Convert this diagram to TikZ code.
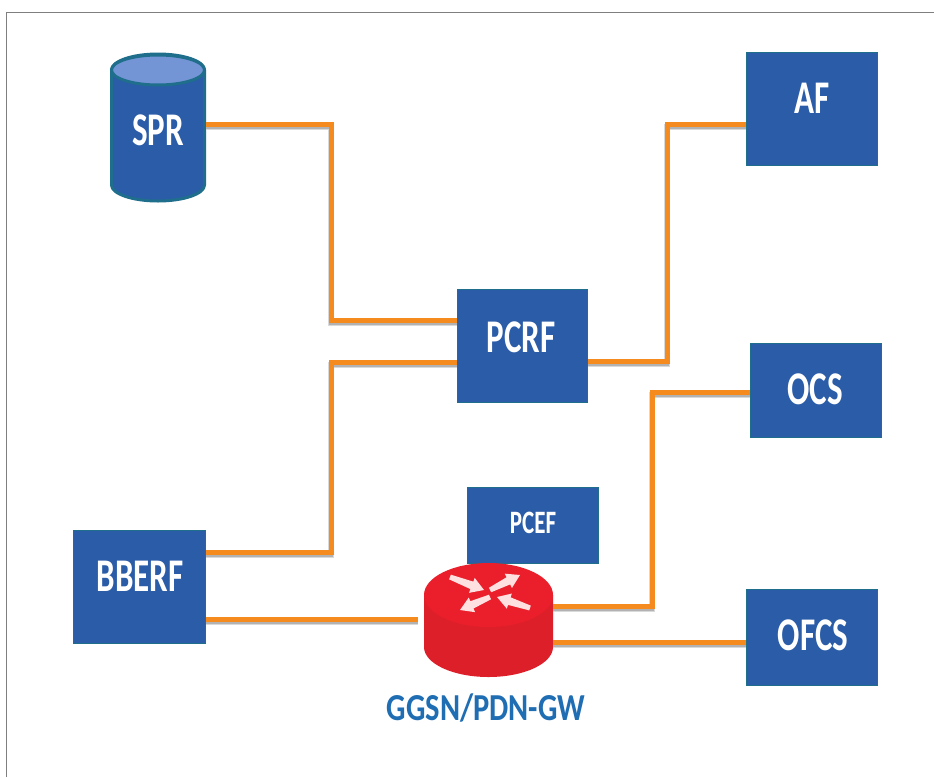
\documentclass[tikz,border=0pt]{standalone}
\usepackage{fontspec}
\setmainfont{Carlito}
\usetikzlibrary{calc}
\definecolor{boxblue}{HTML}{2A5CA8}
\definecolor{boxedge}{HTML}{1F6E8C}
\definecolor{wire}{HTML}{F58A1F}
\definecolor{framegray}{HTML}{7F7F7F}
\definecolor{capblue}{HTML}{7395D6}
\definecolor{routertop}{HTML}{EA1F2B}
\definecolor{routerside}{HTML}{DD1F2A}
\definecolor{labelblue}{HTML}{1F6DB2}
\tikzset{
  x=1pt,y=-1pt,
  bluebox/.style={draw=boxedge,line width=1.5pt,fill=boxblue,inner sep=0pt,text=white,font=\bfseries},
  wirepath/.style={draw=wire,line width=5pt,
    preaction={draw=black!15,line width=6pt,transform canvas={yshift=-3pt}},
    preaction={draw=black!30,line width=4pt,transform canvas={yshift=-2.5pt}}},
  rarrow/.style={draw=none,fill=red!12!white},
}
\newcommand{\lbl}[2]{\scalebox{1}[1.42]{\fontsize{#1}{#1}\selectfont\bfseries #2}}
\newcommand{\rarr}[4]{%
  \path let \p1=($(#3,#4)-(#1,#2)$), \n1={atan2(\y1,\x1)}, \n2={veclen(\x1,\y1)} in
    [rarrow,shift={(#1,#2)},rotate=\n1]
    (0,-2.5) -- (\n2-13,-4) -- (\n2-13,-8) -- (\n2,0) -- (\n2-13,8) -- (\n2-13,4) -- (0,2.5) -- cycle;}
\begin{document}
\begin{tikzpicture}
\useasboundingbox (0,0) rectangle (934,777);
\fill[white] (0,0) rectangle (934,777);
\draw[framegray,line width=1.5pt] (6.5,777) -- (6.5,12.5) -- (934,12.5);

% boxes
\node[bluebox,minimum width=131,minimum height=113] (af) at (812,109) {};
\node[bluebox,minimum width=130,minimum height=113] (pcrf) at (522.5,346) {};
\node[bluebox,minimum width=131,minimum height=94] (ocs) at (816,390.5) {};
\node[bluebox,minimum width=131,minimum height=76] (pcef) at (533,525.5) {};
\node[bluebox,minimum width=132,minimum height=113] (bberf) at (139.5,587) {};
\node[bluebox,minimum width=131,minimum height=96] (ofcs) at (812,637.5) {};
\node[inner sep=0pt,text=white] (aft) at (812,98) {\lbl{33}{AF}};
\node[inner sep=0pt,text=white] (pcrft) at (521,337) {\lbl{33}{PCRF}};
\node[inner sep=0pt,text=white] (ocst) at (815,389) {\lbl{33}{OCS}};
\node[inner sep=0pt,text=white] (pceft) at (533,523) {\lbl{23}{PCEF}};
\node[inner sep=0pt,text=white] (bberft) at (140,576) {\lbl{33}{BBERF}};
\node[inner sep=0pt,text=white] (ofcst) at (813,635) {\lbl{33}{OFCS}};

% SPR cylinder
\draw[boxedge,line width=3pt,fill=boxblue]
  (111.5,70) -- (111.5,185) arc[start angle=180,end angle=0,x radius=46.5,y radius=16]
  -- (204.5,70) arc[start angle=0,end angle=-180,x radius=46.5,y radius=16];
\draw[boxedge,line width=3pt,fill=capblue] (158,70) ellipse[x radius=46.5,y radius=15];
\node[inner sep=0pt,text=white] (spr) at (158,130) {\lbl{33}{SPR}};
\coordinate (sprport) at (206,124);

% router
\fill[routerside] (424,595) -- (424,647) arc[start angle=180,end angle=0,x radius=64.5,y radius=30]
  -- (553,595) -- cycle;
\fill[routertop] (488.5,595) ellipse[x radius=64.5,y radius=32];
\rarr{450}{577}{484}{590}
\rarr{490}{590}{520}{575}
\rarr{490}{597}{460}{610}
\rarr{530}{608}{497}{597}
\coordinate (rleft) at (418,619);
\coordinate (rup) at (553,606);
\coordinate (rdown) at (553,642);
\node[inner sep=0pt,text=labelblue] (gw) at (486,708) {\scalebox{1}[1.25]{\fontsize{30.5}{30.5}\selectfont\bfseries GGSN/PDN-GW}};

% connectors
\path[wirepath] (sprport) -- (331,124) -- (331,320) -- ([yshift=26]pcrf.west);
\path[wirepath] ([yshift=-15]pcrf.east) -- (667,361) -- (667,124) -- ([yshift=-15]af.west);
\path[wirepath] ([yshift=35]bberf.east) -- (331,552) -- (331,362) -- ([yshift=-16]pcrf.west);
\path[wirepath] ([yshift=-1.5]ocs.west) -- (652,392) -- (652,606) -- (rup);
\path[wirepath] ([yshift=-32]bberf.east) -- (rleft);
\path[wirepath] (rdown) -- ([yshift=-4.5]ofcs.west);
\end{tikzpicture}
\end{document}
